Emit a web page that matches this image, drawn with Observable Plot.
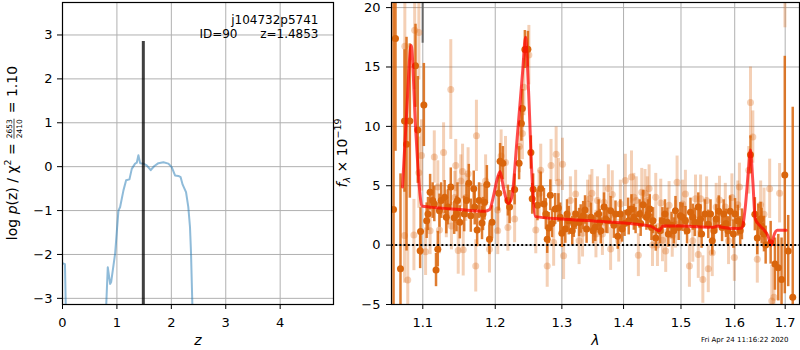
<!DOCTYPE html>
<html><head><meta charset="utf-8">
<script src="https://cdn.jsdelivr.net/npm/d3@7"></script>
<script src="https://cdn.jsdelivr.net/npm/@observablehq/plot@0.6"></script>
<style>
body{margin:0;background:#fff;}
#wrap{position:relative;width:800px;height:350px;font-family:"DejaVu Sans",sans-serif;}
#wrap svg{position:absolute;top:0;overflow:visible;}
</style></head><body><div id="wrap"></div>
<script>
// ---------- Left panel: log p(z) ----------
const objName = "j104732p5741";
const objId = 90;
const zBest = 1.4853;
const zBarTop = 2.85;
const pzZ   = [0.0, 0.045, 0.062, 0.07, null, 0.79, 0.802, 0.832, 0.875, 0.894, 0.967, 1.028, 1.059, 1.120, 1.169, 1.230, 1.273, 1.334, 1.365, 1.395, 1.426, 1.487, 1.548, 1.621, 1.683, 1.762, 1.854, 1.946, 2.007, 2.068, 2.129, 2.171, 2.208, 2.270, 2.312, 2.343, 2.362, 2.386, 2.40];
const pzLog = [-2.2, -2.22, -3.3, -3.5, null, -3.5, -3.2, -2.29, -2.67, -2.63, -1.98, -1.0, -0.92, -0.54, -0.31, -0.29, -0.05, 0.07, 0.09, 0.26, 0.08, 0.07, 0.03, -0.08, 0.01, 0.08, 0.10, 0.07, -0.01, -0.2, -0.21, -0.24, -0.41, -0.58, -0.92, -1.38, -1.98, -3.14, -3.6];
const pzXTicks = [0, 1, 2, 3, 4];
const pzYTicks = [-3, -2, -1, 0, 1, 2, 3];
const pzXDomain = [0, 4.98];
const pzYDomain = [-3.14, 3.74];

// ---------- Right panel: spectrum ----------
const darkLam  = [1.0620,1.0645,1.0709,1.0761,1.0787,1.0830,1.0904,1.0934,1.0970,1.0965,1.1014,1.1051,1.1097,1.1153,1.1200,1.1176,1.1246,1.1292,1.1339,1.1376,1.1423,1.1468,1.1500,1.1561,1.1625,1.1653,1.1694,1.1742,1.1769,1.1811,1.1847,1.1880,1.1917,1.1954,1.2051,1.2070,1.2110,1.2184,1.2209,1.2283,1.2349,1.2383,1.2398,1.2435,1.2480,1.2525,1.2545,1.2559,1.2625,1.2674,1.2723,1.2773,1.2797,1.2821,1.2847,1.2896,1.2946,1.3054,1.3108,1.3163,1.3217,1.3272,1.3337,1.3392,1.3462,1.3532,1.3587,1.3622,1.3675,1.3731,1.3784,1.3838,1.3903,1.3946,1.4017,1.4077,1.4134,1.4204,1.4273,1.4331,1.4390,1.4448,1.4505,1.4552,1.4627,1.4714,1.4774,1.4831,1.4901,1.4958,1.5029,1.5110,1.5172,1.5252,1.5315,1.5335,1.5376,1.5437,1.5500,1.5574,1.5648,1.5696,1.5759,1.5833,1.5913,1.5974,1.6059,1.6139,1.6306,1.6392,1.6440,1.6460,1.6526,1.6606,1.6706,1.6792,1.6860,1.6926,1.6992,1.7062,1.7155,
  1.3605,1.3703,1.3865,1.3974,1.4087,1.4174,1.4291,1.4418,1.4477,1.4669,1.4756,1.4871,1.4988,1.5080,1.5214,
  1.3000,1.3081,1.3188,1.3297,1.3367,1.3497,1.2752,1.2975,
  1.5357,1.5542,1.5604,1.5789,1.5870,1.6006,1.6106,1.6506,1.6573,
  1.1069,1.1131,1.1222,1.1315,1.1454,1.1593,1.1708,1.1825];
const darkFlux = [3.0,17.4,-2.0,10.45,8.5,10.45,15.1,9.7,1.15,-0.48,11.8,2.06,4.46,3.47,-0.34,-2.1,3.75,4.04,3.2,4.9,2.3,3.75,1.92,2.62,5.2,2.48,4.74,1.27,3.75,1.86,3.6,5.1,0.5,1.92,4.37,7.06,6.9,3.75,3.2,4.69,6.9,10.25,11.5,16.47,16.5,7.8,3.9,4.7,3.35,4.76,3.47,0.5,1.44,4.2,1.83,3.05,3.13,1.35,2.06,1.2,2.62,1.9,2.48,1.35,2.35,1.5,2.62,1.2,3.2,2.06,2.9,1.67,0.75,2.62,1.83,2.76,3.05,2.06,2.62,3.41,2.35,3.05,2.06,0.59,1.2,2.62,0.93,1.67,2.9,1.49,2.35,1.2,2.76,1.92,3.2,1.83,0.93,2.62,1.75,0.36,2.2,2.85,1.49,1.83,2.85,0.93,2.06,1.75,7.6,2.6,0.59,2.06,1.6,0.0,0.2,-1.6,-1.9,-2.9,5.9,-0.5,-4.4,
  1.92,2.2,2.62,1.35,2.06,2.35,1.83,2.62,1.49,2.06,1.92,1.2,2.48,2.06,2.35,
  1.0,2.62,1.75,2.2,2.96,1.2,2.62,2.35,
  2.2,2.62,1.2,2.62,1.2,2.62,1.2,2.2,0.93,
  2.62,3.75,2.9,2.35,2.62,3.75,3.2,2.62];
const darkErr  = [25,9.5,8,6,9,6.5,3.5,4.5,2,1.5,3.5,1.5,1.5,1.5,1.5,1.4,1.5,1.4,1.5,1.6,1.4,1.5,1.4,1.5,1.6,1.4,1.5,1.4,1.5,1.4,1.5,1.6,1.3,1.4,1.5,1.5,1.4,1.3,1.4,1.3,1.4,1.5,1.6,1.6,1.5,1.4,1.3,1.3,1.3,1.4,1.3,1.2,1.3,1.3,1.2,1.3,1.2,1.2,1.2,1.2,1.3,1.2,1.2,1.2,1.2,1.2,1.2,1.1,1.2,1.1,1.2,1.1,1.1,1.2,1.1,1.2,1.2,1.1,1.2,1.2,1.1,1.2,1.1,1.1,1.1,1.2,1.1,1.1,1.2,1.1,1.2,1.1,1.2,1.2,1.2,1.2,1.2,1.2,1.2,1.2,1.2,1.3,1.2,1.2,1.3,1.2,1.3,1.3,1.6,1.4,1.4,1.4,1.5,1.6,1.8,2.2,2.8,3.5,10,3,16,
  1.1,1.2,1.1,1.1,1.2,1.1,1.1,1.2,1.1,1.1,1.2,1.1,1.1,1.2,1.1,
  1.2,1.2,1.1,1.2,1.2,1.1,1.3,1.2,
  1.2,1.2,1.1,1.2,1.2,1.3,1.2,1.4,1.5,
  1.4,1.5,1.4,1.4,1.5,1.4,1.5,1.4];

const lightLam  = [1.0765,1.0761,1.0803,1.0893,1.0948,1.0883,1.0983,1.0948,1.1037,1.1097,1.1153,1.1278,1.1376,1.1315,1.1444,1.1514,1.1538,1.1478,1.1547,1.1722,1.1732,1.1583,1.1917,1.2036,1.1801,1.1385,1.1222,1.2495,1.2420,1.2398,1.2353,1.2085,1.2149,1.2036,1.2283,1.2184,1.2773,1.2911,1.3010,1.2832,1.2674,1.2599,1.3027,1.2872,1.2946,1.3217,1.3478,1.3543,1.3327,1.3408,1.2649,1.3747,1.3812,1.3784,1.3919,1.4030,1.4134,1.4216,1.4251,1.4309,1.4366,1.4436,1.4495,1.4582,1.4640,1.4670,1.4727,1.4843,1.4930,1.5029,1.5153,1.5214,1.5264,1.4901,1.3649,1.3568,1.6306,1.6352,1.6272,1.6059,1.6091,1.6506,1.6573,1.6686,1.6886,1.6440,1.5399,1.5500,1.5574,1.5710,1.5882,1.5993,1.5315,1.6772,1.6729,1.6995,1.5648,1.5358,
  1.3675,1.3946,1.4174,1.4405,1.4552,1.4787,1.5080,1.3134,1.3272,1.3443,1.5468,1.5820,1.5946,1.1200,1.1615,1.1862,1.1431];
const lightFlux = [16.75,0.8,-2.93,18.1,17.9,0.85,7.55,6.1,-0.56,1.2,7.42,7.8,13.1,2.62,6.7,5.4,6.2,-0.45,-0.4,-1.75,9.2,4.0,-0.35,1.2,3.2,1.6,1.27,16.0,13.3,9.4,8.3,7.5,6.95,2.96,2.2,1.49,-1.75,7.65,6.8,6.7,6.3,1.27,-0.9,0.22,5.3,4.3,4.37,0.93,1.0,3.47,4.3,4.76,4.26,-0.33,0.37,5.45,5.73,3.75,-0.85,4.46,4.37,4.76,0.0,0.0,3.55,0.4,-0.5,0.78,5.3,3.47,-1.75,0.36,3.9,1.75,0.93,3.75,12.0,9.1,6.3,3.4,4.9,3.4,2.6,4.74,4.37,-1.2,-2.9,-2.0,-0.65,3.8,0.36,-1.05,-0.8,-4.4,-4.7,22,3.2,3.9,
  3.6,3.47,4.04,3.75,4.04,3.35,4.3,3.75,0.36,3.9,3.75,3.2,4.0,4.9,6.0,5.4,4.0];
const lightErr  = [6,4,3,5,4,3,3,3,2,2,2.2,2.5,4.2,2,2.2,2.2,2.3,2,2.2,2.2,3,2,2,2,2,2,2,2.5,2.4,2.2,2.2,2.2,2.2,2,2,2,1.8,2.3,2.2,2.2,2.2,2,2,2,2,2,2,2,2,2,2,2,2,1.8,1.8,2.2,2.2,2,1.8,2,2,2,1.8,1.8,2,1.8,1.8,1.8,2.2,2,1.8,1.8,2,2,1.8,2,3,2.2,2,2,2,2,2.2,2.5,2.5,2,2,2,2,2,2,2,2,3,3,3.7,2,2,
  2,2,2,2,2,2,2,2,2,2,2,2,2,2.2,2.2,2.2,2.2];

const greyLam = [1.0998];
const greyFlux = [22];
const greyErr = [5];

const modelLam  = [1.0735,1.0787,1.0848,1.0904,1.0960,1.0985,1.110,1.150,1.185,1.192,1.197,1.2025,1.207,1.212,1.219,1.224,1.232,1.240,1.2445,1.249,1.254,1.2594,1.30,1.36,1.446,1.455,1.461,1.468,1.50,1.56,1.568,1.575,1.60,1.614,1.620,1.627,1.6306,1.635,1.640,1.650,1.657,1.665,1.672,1.677,1.684,1.702];
const modelFlux = [4.9,11,16.8,10,4.5,3.3,3.2,3.0,2.85,3.0,4.0,5.5,6.2,4.8,3.5,4.0,9.0,14.5,17.5,13,6.0,2.4,2.2,2.0,1.6,1.35,1.2,1.6,1.6,1.5,1.6,1.5,1.4,1.45,3.0,6.5,8.0,5.5,2.2,1.6,1.3,0.8,0.0,0.8,1.25,1.25];

const specXTicks = [1.1, 1.2, 1.3, 1.4, 1.5, 1.6, 1.7];
const specYTicks = [-5, 0, 5, 10, 15, 20];
const specXDomain = [1.0594, 1.7295];
const specYDomain = [-5, 20.43];
const dateText = "Fri Apr 24 11:16:22 2020";

const ORANGE = "#d9650c";
const GRID = "#b0b0b0";
const baseStyle = {fontFamily: "DejaVu Sans", fontSize: "13px", color: "black", background: "transparent", overflow: "visible"};

// ---------- Build left plot ----------
const pzIdx = d3.range(pzZ.length);
const left = Plot.plot({
  width: 340, height: 350,
  marginLeft: 62, marginRight: 7, marginTop: 2, marginBottom: 46,
  style: baseStyle,
  x: {domain: pzXDomain},
  y: {domain: pzYDomain},
  marks: [
    Plot.gridX(pzXTicks, {stroke: GRID, strokeOpacity: 1, strokeWidth: 1}),
    Plot.gridY(pzYTicks, {stroke: GRID, strokeOpacity: 1, strokeWidth: 1}),
    Plot.line(pzIdx, {x: i => pzZ[i], y: i => pzLog[i], stroke: "#1f77b4", strokeOpacity: 0.5, strokeWidth: 2, clip: true}),
    Plot.ruleX([zBest], {y1: pzYDomain[0], y2: zBarTop, stroke: "black", strokeOpacity: 0.75, strokeWidth: 3}),
    Plot.axisX(pzXTicks, {tickSize: 5, tickPadding: 8, label: null, tickFormat: d3.format("d")}),
    Plot.axisY(pzYTicks, {tickSize: 5, tickPadding: 5, label: null, tickFormat: d3.format("d")}),
    Plot.text([objName], {frameAnchor: "top-right", dx: -15, dy: 18, lineAnchor: "middle", fontSize: 12}),
    Plot.text([`z=${zBest.toFixed(4)}`], {frameAnchor: "top-right", dx: -15, dy: 32, lineAnchor: "middle", fontSize: 12}),
    Plot.text([`ID=${objId}`], {frameAnchor: "top-right", dx: -96, dy: 32, lineAnchor: "middle", fontSize: 12}),
    Plot.text(["z"], {frameAnchor: "bottom", dy: 36, lineAnchor: "middle", fontSize: 14, fontStyle: "italic"}),
    Plot.frame({stroke: "black", strokeWidth: 1.2})
  ]
});
left.style.left = "0px";

// ---------- Build right plot ----------
const dIdx = d3.range(darkLam.length);
const lIdx = d3.range(lightLam.length);
const gIdx = d3.range(greyLam.length);
const mIdx = d3.range(modelLam.length);
const right = Plot.plot({
  width: 460, height: 350,
  marginLeft: 51, marginRight: 1, marginTop: 2, marginBottom: 46,
  style: baseStyle,
  x: {type: "log", domain: specXDomain},
  y: {domain: specYDomain},
  marks: [
    Plot.gridX(specXTicks, {stroke: GRID, strokeOpacity: 1, strokeWidth: 1}),
    Plot.gridY(specYTicks, {stroke: GRID, strokeOpacity: 1, strokeWidth: 1}),
    Plot.ruleX(gIdx, {x: i => greyLam[i], y1: i => greyFlux[i] - greyErr[i], y2: i => greyFlux[i] + greyErr[i], stroke: "#666", strokeWidth: 2, clip: true}),
    Plot.ruleX(lIdx, {x: i => lightLam[i], y1: i => lightFlux[i] - lightErr[i], y2: i => lightFlux[i] + lightErr[i], stroke: ORANGE, strokeOpacity: 0.3, strokeWidth: 3, clip: true}),
    Plot.dot(lIdx, {x: i => lightLam[i], y: i => lightFlux[i], r: 3.5, fill: ORANGE, fillOpacity: 0.3, stroke: "none", clip: true}),
    Plot.ruleX(dIdx, {x: i => darkLam[i], y1: i => darkFlux[i] - darkErr[i], y2: i => darkFlux[i] + darkErr[i], stroke: ORANGE, strokeOpacity: 0.85, strokeWidth: 2.5, clip: true}),
    Plot.dot(dIdx, {x: i => darkLam[i], y: i => darkFlux[i], r: 3.5, fill: ORANGE, stroke: "none", clip: true}),
    Plot.line(mIdx, {x: i => modelLam[i], y: i => modelFlux[i], stroke: "red", strokeOpacity: 0.7, strokeWidth: 3, curve: "monotone-x", clip: true}),
    Plot.ruleY([0], {stroke: "black", strokeWidth: 2, strokeDasharray: "2,2.2"}),
    Plot.axisX(specXTicks, {tickSize: 5, tickPadding: 8, label: null, tickFormat: d => d.toFixed(1)}),
    Plot.axisY(specYTicks, {tickSize: 5, tickPadding: 6, label: null, tickFormat: d3.format("d")}),
    Plot.text(["λ"], {frameAnchor: "bottom", dy: 36, lineAnchor: "middle", fontSize: 14, fontStyle: "italic"}),
    Plot.text([dateText], {frameAnchor: "bottom-right", dx: -11, dy: 35, lineAnchor: "middle", fontSize: 7}),
    Plot.frame({stroke: "black", strokeWidth: 1.2})
  ]
});
right.style.left = "340px";

const wrap = document.getElementById("wrap");
wrap.appendChild(left);
wrap.appendChild(right);

// ---------- Rotated math labels ----------
function mathLabel(svg, cx, cy, pieces) {
  const outer = d3.select(svg).append("g").attr("transform", `translate(${cx},${cy}) rotate(-90)`);
  const g = outer.append("g").attr("font-family", "DejaVu Sans").attr("fill", "black").attr("text-anchor", "start");
  let x = 0;
  for (const p of pieces) {
    if (p.frac) {
      const fs = p.size || 8;
      const n = g.append("text").text(p.num).attr("font-size", fs).attr("y", -4.8).attr("text-anchor", "start");
      const d = g.append("text").text(p.den).attr("font-size", fs).attr("y", 4.8).attr("text-anchor", "start");
      const wn = n.node().getComputedTextLength(), wd = d.node().getComputedTextLength();
      const w = Math.max(wn, wd) + 1;
      n.attr("x", x + (w - wn) / 2);
      d.attr("x", x + (w - wd) / 2);
      g.append("line").attr("x1", x).attr("x2", x + w).attr("y1", -3).attr("y2", -3).attr("stroke", "black").attr("stroke-width", 0.7);
      x += w + 1;
    } else {
      const t = g.append("text").text(p.t).attr("x", x).attr("y", p.dy || 0).attr("font-size", p.size || 14).attr("text-anchor", "start").style("white-space", "pre");
      if (p.italic) t.attr("font-style", "italic");
      x += t.node().getComputedTextLength();
    }
  }
  g.attr("transform", `translate(${-x / 2},0)`);
}
mathLabel(left, 17, 153, [
  {t: "log "}, {t: "p", italic: true}, {t: "(z) / χ"}, {t: "2", size: 9.5, dy: -6}, {t: " = "},
  {frac: true, num: "2653", den: "2410", size: 7.5}, {t: " = 1.10"}
]);
mathLabel(right, 7, 153, [
  {t: "f", italic: true}, {t: "λ", italic: true, size: 9.5, dy: 3}, {t: " × 10"}, {t: "−19", size: 9.5, dy: -6}
]);
</script></body></html>
